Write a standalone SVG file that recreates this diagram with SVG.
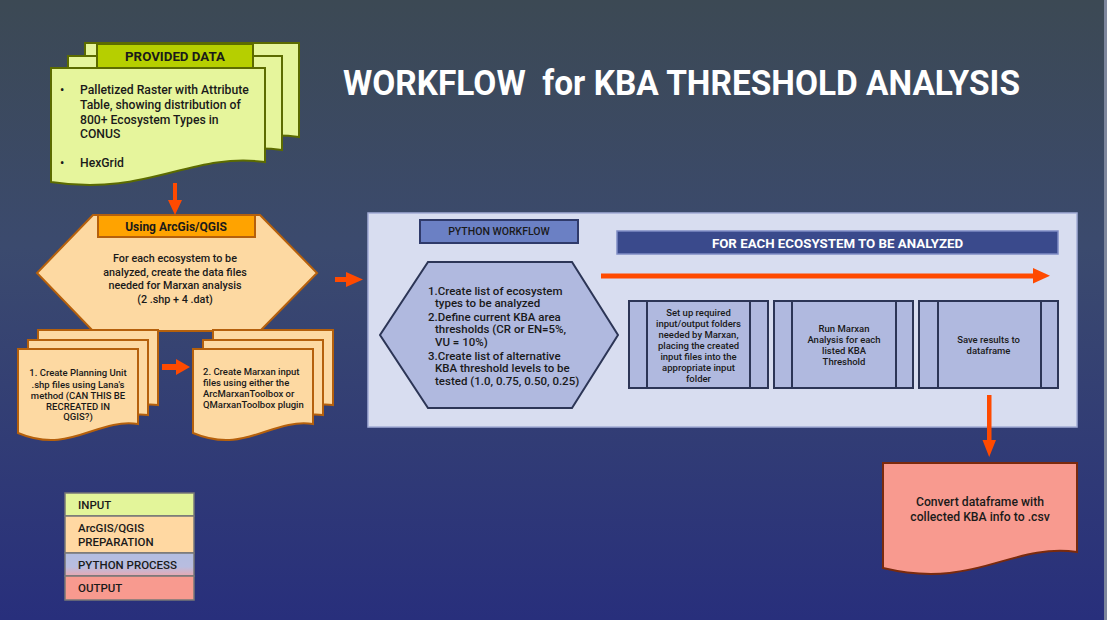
<svg xmlns="http://www.w3.org/2000/svg" width="1107" height="620" viewBox="0 0 1107 620">
<defs>
<linearGradient id="bg" x1="0" y1="0" x2="0" y2="1">
<stop offset="0" stop-color="#3c4954"/>
<stop offset="0.4" stop-color="#3b4a6e"/>
<stop offset="1" stop-color="#282f7c"/>
</linearGradient>
<linearGradient id="pyleg" x1="0" y1="0" x2="0" y2="1">
<stop offset="0" stop-color="#b3bde0"/>
<stop offset="0.6" stop-color="#b8bde0"/>
<stop offset="1" stop-color="#e9a8b0"/>
</linearGradient>
<style>
text{font-family:Roboto,"Liberation Sans",sans-serif;fill:#1a1a1a;}
.in{fill:#e6f59c;stroke:#5c6b00;stroke-width:2;}
.inh{fill:#b6cf00;stroke:#5c6b00;stroke-width:2;}
.prep{fill:#fdd9a2;stroke:#b5600c;stroke-width:2;}
.preph{fill:#ffa300;stroke:#b5600c;stroke-width:2;}
.py{fill:#b0b9df;stroke:#2c3556;stroke-width:2;}
.out{fill:#f89a8f;stroke:#7a2a0d;stroke-width:2;}
.arr{fill:#ff4a00;}
.leg{stroke:#777777;stroke-width:1.5;}
.t12{font-size:12.2px;font-weight:500;}
.t11{font-size:11.5px;font-weight:500;}
.t108{font-size:10.8px;font-weight:500;}
.t10{font-size:10.5px;font-weight:500;}
.t9{font-size:9.5px;font-weight:500;}
.c{text-anchor:middle;}
.b{font-weight:700;}
</style>
</defs>
<rect x="0" y="0" width="1107" height="620" fill="url(#bg)"/>
<rect x="1104" y="0" width="3" height="620" fill="#7d869c"/>

<text x="343" y="95" font-size="35" font-weight="700" style="fill:#ffffff" textLength="677" lengthAdjust="spacingAndGlyphs" xml:space="preserve">WORKFLOW  for KBA THRESHOLD ANALYSIS</text>

<g id="python-panel">
<rect x="368" y="213" width="709" height="214" fill="#d8ddf0" stroke="#a3acd6" stroke-width="1.5"/>
</g>

<g id="provided-data">
<path class="in" d="M85,43 H299 V137 C224,127 181,172 85,157 Z"/>
<path class="in" d="M68,56 H282 V150 C207,140 164,185 68,170 Z"/>
<path class="in" d="M51,68 H265 V162 C190,152 147,197 51,182 Z"/>
<rect class="inh" x="97" y="44" width="156" height="24"/>
<text class="c b" x="175" y="61" font-size="13.3">PROVIDED DATA</text>
<text class="t12" x="60" y="94">•</text>
<text class="t12" x="80" y="94">Palletized Raster with Attribute</text>
<text class="t12" x="80" y="109">Table, showing distribution of</text>
<text class="t12" x="80" y="124">800+ Ecosystem Types in</text>
<text class="t12" x="80" y="138">CONUS</text>
<text class="t12" x="60" y="167">•</text>
<text class="t12" x="80" y="167">HexGrid</text>
</g>

<g id="arcgis">
<path class="prep" d="M93,215 H260 L317,273 L260,331 H93 L37,273 Z"/>
<rect class="preph" x="98" y="215" width="157" height="22"/>
<text class="c b" x="176" y="231" font-size="12">Using ArcGis/QGIS</text>
<text class="t108 c" x="175" y="262">For each ecosystem to be</text>
<text class="t108 c" x="175" y="276">analyzed, create the data files</text>
<text class="t108 c" x="175" y="289">needed for Marxan analysis</text>
<text class="t108 c" x="175" y="303">(2 .shp + 4 .dat)</text>
</g>

<g id="planning-unit">
<path class="prep" d="M38,330 H158 V405 C116,399 88,444 38,414 Z"/>
<path class="prep" d="M28,340 H148 V415 C106,409 78,454 28,424 Z"/>
<path class="prep" d="M18,349 H138 V424 C96,418 70,455 18,433 Z"/>
<text class="t9 c" x="78" y="376">1. Create Planning Unit</text>
<text class="t9 c" x="78" y="387.5">.shp files using Lana's</text>
<text class="t9 c" x="78" y="398.5">method (CAN THIS BE</text>
<text class="t9 c" x="78" y="409.5">RECREATED IN</text>
<text class="t9 c" x="78" y="420">QGIS?)</text>
</g>

<g id="marxan-input">
<path class="prep" d="M213,330 H333 V405 C291,399 263,444 213,414 Z"/>
<path class="prep" d="M203,340 H323 V415 C281,409 253,454 203,424 Z"/>
<path class="prep" d="M193,349 H313 V424 C271,418 245,455 193,433 Z"/>
<text class="t9" x="203" y="375">2. Create Marxan input</text>
<text class="t9" x="203" y="386">files using either the</text>
<text class="t9" x="203" y="397">ArcMarxanToolbox or</text>
<text class="t9" x="203" y="407.5">QMarxanToolbox plugin</text>
</g>

<g id="python-workflow-label">
<rect x="420" y="220" width="158" height="23" fill="#6b80c4" stroke="#2f3a6a" stroke-width="2"/>
<text class="t10 c" x="499" y="235">PYTHON WORKFLOW</text>
</g>

<g id="python-setup">
<path class="py" d="M428,262 H572 L618,335 L572,408 H428 L380,335 Z"/>
<text class="t11" x="428" y="295">1.Create list of ecosystem</text>
<text class="t11" x="435" y="307">types to be analyzed</text>
<text class="t11" x="428" y="321">2.Define current KBA area</text>
<text class="t11" x="435" y="333">thresholds (CR or EN=5%,</text>
<text class="t11" x="435" y="346">VU = 10%)</text>
<text class="t11" x="428" y="360">3.Create list of alternative</text>
<text class="t11" x="435" y="372">KBA threshold levels to be</text>
<text class="t11" x="435" y="385">tested (1.0, 0.75, 0.50, 0.25)</text>
</g>

<g id="for-each-header">
<rect x="617" y="231" width="441" height="23" fill="#3a4a8c" stroke="#7f8cc4" stroke-width="1.5"/>
<text class="c b" x="837.5" y="247.5" font-size="13.3" style="fill:#ffffff">FOR EACH ECOSYSTEM TO BE ANALYZED</text>
</g>

<g id="setup-folders">
<rect class="py" x="629" y="301" width="139" height="87"/>
<line x1="647" y1="301" x2="647" y2="388" stroke="#2c3556" stroke-width="2"/>
<line x1="750" y1="301" x2="750" y2="388" stroke="#2c3556" stroke-width="2"/>
<text class="t9 c" x="698.5" y="315.5">Set up required</text>
<text class="t9 c" x="698.5" y="326.5">input/output folders</text>
<text class="t9 c" x="698.5" y="337.5">needed by Marxan,</text>
<text class="t9 c" x="698.5" y="348.5">placing the created</text>
<text class="t9 c" x="698.5" y="359.5">input files into the</text>
<text class="t9 c" x="698.5" y="370.5">appropriate input</text>
<text class="t9 c" x="698.5" y="381.5">folder</text>
</g>

<g id="run-marxan">
<rect class="py" x="774" y="301" width="139" height="87"/>
<line x1="792" y1="301" x2="792" y2="388" stroke="#2c3556" stroke-width="2"/>
<line x1="896" y1="301" x2="896" y2="388" stroke="#2c3556" stroke-width="2"/>
<text class="t9 c" x="844" y="331.5">Run Marxan</text>
<text class="t9 c" x="844" y="342.5">Analysis for each</text>
<text class="t9 c" x="844" y="353.5">listed KBA</text>
<text class="t9 c" x="844" y="364.5">Threshold</text>
</g>

<g id="save-results">
<rect class="py" x="919" y="301" width="139" height="87"/>
<line x1="938" y1="301" x2="938" y2="388" stroke="#2c3556" stroke-width="2"/>
<line x1="1041" y1="301" x2="1041" y2="388" stroke="#2c3556" stroke-width="2"/>
<text class="t9 c" x="988.5" y="342.5">Save results to</text>
<text class="t9 c" x="988.5" y="353.5">dataframe</text>
</g>

<g id="output-csv">
<path class="out" d="M883,463 H1077 V552 C1010,543 975,590 883,568 Z"/>
<text class="t12 c" x="980" y="506">Convert dataframe with</text>
<text class="t12 c" x="980" y="521">collected KBA info to .csv</text>
</g>

<g id="connectors">
<path class="arr" d="M173,183 H177 V200 H182 L175,215 L168,200 H173 Z"/>
<path class="arr" d="M162,364 H176 V359 L190,367 L176,375 V370 H162 Z"/>
<path class="arr" d="M335,277 H346 V272 L363,279.5 L346,287 V282 H335 Z"/>
<path class="arr" d="M601,273.5 H1033 V268 L1050,275.8 L1033,283.5 V278.5 H601 Z"/>
<path class="arr" d="M987,395 H991.5 V440 H996 L989.2,457 L982.5,440 H987 Z"/>
</g>

<g id="legend">
<rect class="leg" x="65" y="493" width="129" height="23" fill="#e3f59a"/>
<rect class="leg" x="65" y="516" width="129" height="37" fill="#ffd8a2"/>
<rect class="leg" x="65" y="553" width="129" height="23" fill="url(#pyleg)"/>
<rect class="leg" x="65" y="576" width="129" height="24" fill="#f89a8f"/>
<text class="t11" x="78" y="509">INPUT</text>
<text class="t11" x="78" y="532">ArcGIS/QGIS</text>
<text class="t11" x="78" y="546">PREPARATION</text>
<text class="t11" x="78" y="569">PYTHON PROCESS</text>
<text class="t11" x="78" y="592">OUTPUT</text>
</g>
</svg>
